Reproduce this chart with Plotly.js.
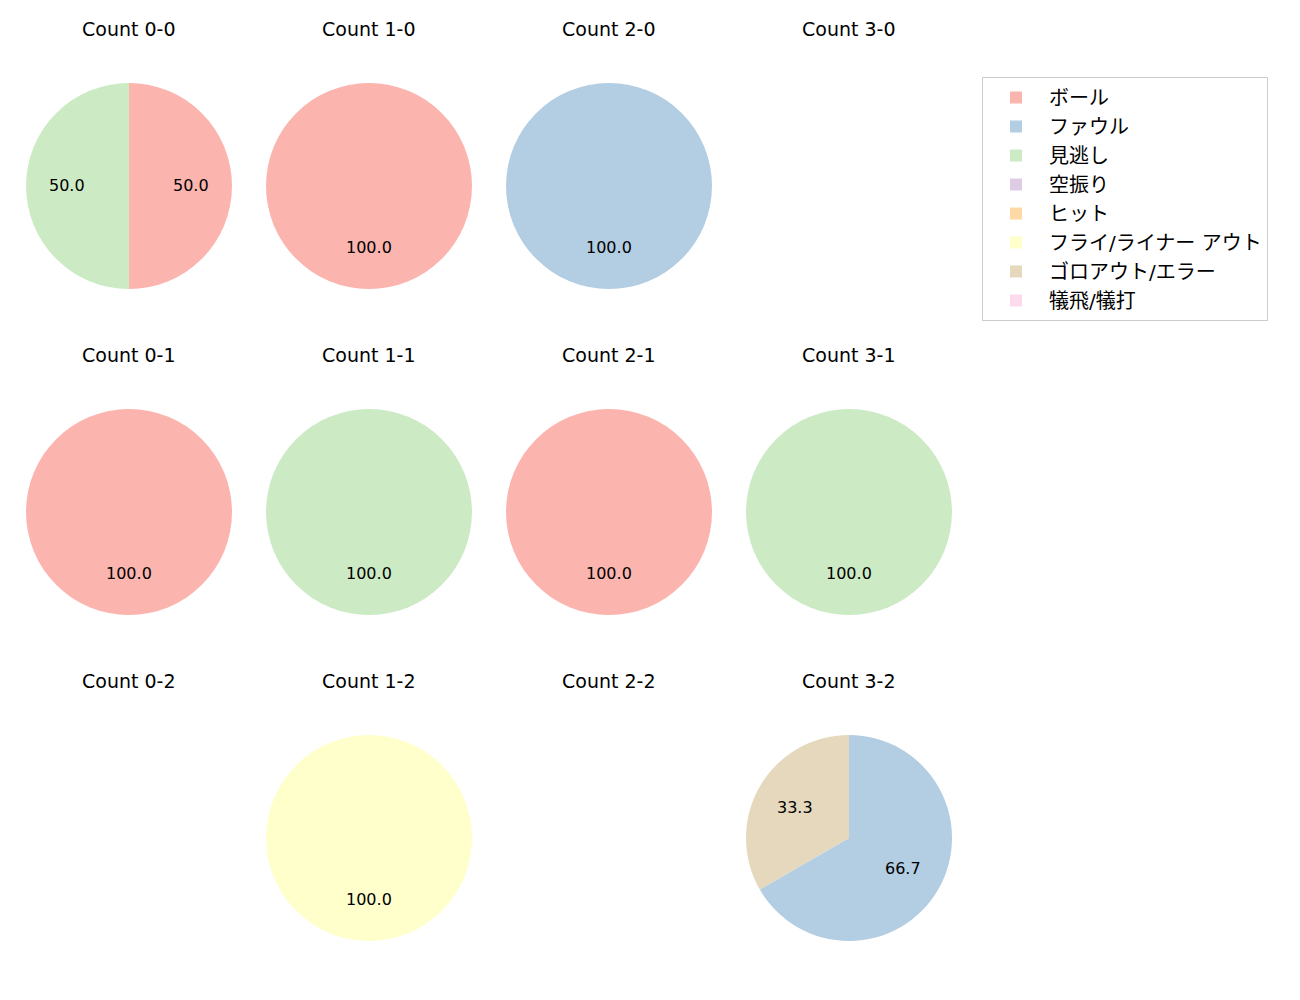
<!DOCTYPE html>
<html>
<head>
<meta charset="utf-8">
<script src="https://cdn.plot.ly/plotly-3.0.1.min.js"></script>
<style>
  body { margin: 0; background: #fff; }
  #chart { width: 1300px; height: 1000px; }
</style>
</head>
<body>
<div id="chart"></div>
<script>
// 球種結果のラベルと色 (Pastel1)
const labels = ["ボール", "ファウル", "見逃し", "空振り", "ヒット", "フライ/ライナー アウト", "ゴロアウト/エラー", "犠飛/犠打"];
const colors = ["#fbb4ae", "#b3cde3", "#ccebc5", "#decbe4", "#fed9a6", "#ffffcc", "#e5d8bd", "#fddaec"];

// カウント (ボール-ストライク) ごとの件数
const countNames = ["0-0", "1-0", "2-0", "3-0",
                    "0-1", "1-1", "2-1", "3-1",
                    "0-2", "1-2", "2-2", "3-2"];
const countValues = [
    [1, 0, 1, 0, 0, 0, 0, 0],
    [1, 0, 0, 0, 0, 0, 0, 0],
    [0, 1, 0, 0, 0, 0, 0, 0],
    [0, 0, 0, 0, 0, 0, 0, 0],
    [1, 0, 0, 0, 0, 0, 0, 0],
    [0, 0, 1, 0, 0, 0, 0, 0],
    [1, 0, 0, 0, 0, 0, 0, 0],
    [0, 0, 1, 0, 0, 0, 0, 0],
    [0, 0, 0, 0, 0, 0, 0, 0],
    [0, 0, 0, 0, 0, 1, 0, 0],
    [0, 0, 0, 0, 0, 0, 0, 0],
    [0, 2, 0, 0, 0, 0, 1, 0]
];

const W = 1300, H = 1000;
const FONT = "DejaVu Sans, Noto Sans CJK JP, sans-serif";
const R = 103;          // 半径 (px)
const COL0 = 129, COLSTEP = 240;
const ROW0 = 186, ROWSTEP = 326;

const data = [];
const annotations = [];

countNames.forEach((name, k) => {
    const col = k % 4, row = Math.floor(k / 4);
    const cx = COL0 + col * COLSTEP;
    const cy = ROW0 + row * ROWSTEP;
    const vals = countValues[k];
    const total = vals.reduce((a, b) => a + b, 0);

    data.push({
        type: "pie",
        labels: labels,
        values: vals,
        marker: { colors: colors, line: { width: 0 } },
        sort: false,
        direction: "clockwise",
        rotation: 0,
        textinfo: "none",
        hoverinfo: "label+percent",
        showlegend: true,
        domain: {
            x: [(cx - R) / W, (cx + R) / W],
            y: [1 - (cy + R) / H, 1 - (cy - R) / H]
        }
    });

    // タイトル
    annotations.push({
        text: "Count " + name,
        xref: "paper", yref: "paper",
        x: cx / W, y: 1 - 29 / H - row * ROWSTEP / H,
        xanchor: "center", yanchor: "middle",
        showarrow: false,
        font: { size: 19, color: "#000", family: FONT }
    });

    // パーセント表示 (半径の0.6の位置)
    if (total > 0) {
        let cum = 0;
        vals.forEach(v => {
            if (v <= 0) return;
            const mid = (cum + v / 2) / total * 2 * Math.PI;
            cum += v;
            const px = cx + 0.6 * R * Math.sin(mid);
            const py = cy - 0.6 * R * Math.cos(mid);
            annotations.push({
                text: (v / total * 100).toFixed(1),
                xref: "paper", yref: "paper",
                x: px / W, y: 1 - py / H,
                xanchor: "center", yanchor: "middle",
                showarrow: false,
                font: { size: 16, color: "#000", family: FONT }
            });
        });
    }
});

const layout = {
    width: W,
    height: H,
    margin: { t: 0, r: 0, b: 0, l: 0 },
    paper_bgcolor: "#fff",
    font: { family: FONT, color: "#000" },
    showlegend: true,
    legend: {
        x: 982 / W, y: 1 - 77 / H,
        xanchor: "left", yanchor: "top",
        bordercolor: "#cccccc",
        borderwidth: 1,
        bgcolor: "#fff",
        font: { size: 20, family: FONT },
        itemwidth: 56,
        traceorder: "normal"
    },
    annotations: annotations
};

Plotly.newPlot("chart", data, layout, { displayModeBar: false });
</script>
</body>
</html>
